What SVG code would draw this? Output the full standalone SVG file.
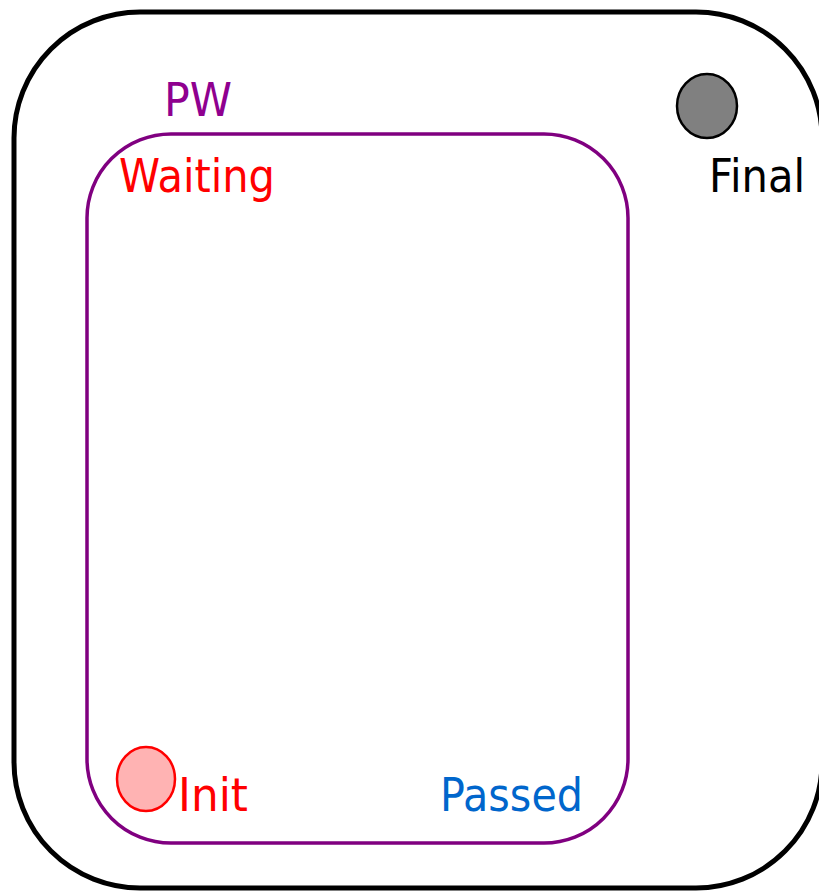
<svg xmlns="http://www.w3.org/2000/svg" width="819" height="891" viewBox="0 0 819 891">
  <style>
    .lbl { font-family: "DejaVu Sans", Verdana, sans-serif; font-size: 46px; }
  </style>
  <rect width="819" height="891" fill="#ffffff"/>
  <g id="outer">
    <rect x="14" y="12" width="808" height="876" rx="126" ry="126" fill="none" stroke="#000000" stroke-width="5"/>
  </g>
  <g id="pw">
    <rect x="87" y="134" width="541" height="709" rx="84" ry="84" fill="none" stroke="#800080" stroke-width="3.5"/>
    <text class="lbl" x="164" y="116" fill="#8f008f" textLength="68" lengthAdjust="spacingAndGlyphs">PW</text>
  </g>
  <g id="waiting">
    <text class="lbl" x="119" y="192" fill="#ff0000" textLength="156" lengthAdjust="spacingAndGlyphs">Waiting</text>
  </g>
  <g id="final">
    <ellipse cx="707" cy="106" rx="30" ry="32" fill="#808080" stroke="#000000" stroke-width="2.5"/>
    <text class="lbl" x="709" y="192" fill="#000000" textLength="96" lengthAdjust="spacingAndGlyphs">Final</text>
  </g>
  <g id="init">
    <ellipse cx="146" cy="779" rx="29" ry="32" fill="#ffb3b3" stroke="#ff0000" stroke-width="2.5"/>
    <text class="lbl" x="178" y="811" fill="#ff0000" textLength="70" lengthAdjust="spacingAndGlyphs">Init</text>
  </g>
  <g id="passed">
    <text class="lbl" x="440" y="811" fill="#0066cc" textLength="143" lengthAdjust="spacingAndGlyphs">Passed</text>
  </g>
  <g id="connectors"></g>
</svg>
